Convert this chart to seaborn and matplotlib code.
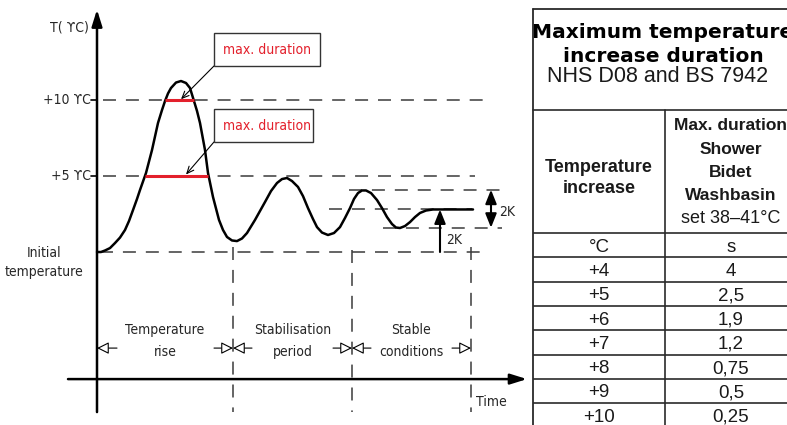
import matplotlib
matplotlib.use("Agg")
import matplotlib.pyplot as plt
from matplotlib import font_manager
from matplotlib.patches import Rectangle
import seaborn as sns

# water temperature response
# time in arbitrary units, temperature as rise above the initial temperature (K)
curve_t = [0.0, 0.4, 0.8, 1.3, 1.8, 2.3, 2.8, 3.2, 3.6, 4.0, 4.3, 4.9, 5.5, 6.1, 6.5,
           6.8, 7.1, 7.4, 7.9, 8.4, 8.9, 9.3, 9.7, 10.0, 10.3, 10.8, 11.1, 11.6, 12.2,
           12.6, 13.0, 13.5, 14.0, 14.5, 15.0, 15.8, 16.8, 17.4, 18.0, 18.5, 19.0, 19.5,
           20.1, 20.6, 21.1, 21.6, 22.0, 22.5, 23.1, 23.7, 24.3, 24.8, 25.3, 25.7, 26.1,
           26.5, 26.9, 27.4, 28.0, 28.5, 29.0, 29.5, 29.9, 30.3, 30.8, 31.3, 31.8, 32.3,
           32.9, 33.6, 37.6]
curve_T = [0.0, 0.0, 0.10, 0.26, 0.59, 0.95, 1.45, 2.04, 2.76, 3.49, 4.08, 5.20, 6.71,
           8.49, 9.34, 9.93, 10.43, 10.79, 11.15, 11.25, 11.12, 10.79, 9.93, 9.28, 8.49,
           6.71, 5.20, 3.62, 2.11, 1.45, 0.99, 0.76, 0.72, 0.89, 1.25, 2.11, 3.29, 4.01,
           4.54, 4.80, 4.87, 4.67, 4.28, 3.68, 2.89, 2.17, 1.64, 1.28, 1.12, 1.25, 1.64,
           2.24, 2.89, 3.49, 3.88, 4.05, 4.05, 3.88, 3.42, 2.89, 2.30, 1.84, 1.61, 1.58,
           1.71, 1.97, 2.30, 2.57, 2.73, 2.80, 2.80]

limit_levels = [10, 5]
limit_labels = ["+10 ϒC", "+5 ϒC"]
red_start = [6.84, 4.79]
red_end = [9.67, 11.06]
band_levels = [4.1, 2.8, 1.6]
phase_bounds = [0.0, 13.6, 25.5, 37.4]
phase_labels = ["Temperature\nrise", "Stabilisation\nperiod", "Stable\nconditions"]

table_units = ["°C", "s"]
temp_increase = ["+4", "+5", "+6", "+7", "+8", "+9", "+10"]
max_duration = ["4", "2,5", "1,9", "1,2", "0,75", "0,5", "0,25"]

RED = "#e3202c"
DASH_C = "#3a3a3a"
dash = (0, (8.5, 6.5))

sns.set_theme(style="white")

# look for a narrow face for the drawing labels
narrow, stretch, fs = "Liberation Sans", "normal", 9.5
cands = [f for f in font_manager.fontManager.ttflist
         if ("condensed" in str(f.stretch) or "Narrow" in f.name or "Condensed" in f.name)
         and f.style == "normal" and f.weight in (400, "normal", "regular", "book")]
if cands:
    cands.sort(key=lambda f: (f.name != "Liberation Sans Narrow", f.name != "DejaVu Sans"))
    narrow, stretch, fs = cands[0].name, cands[0].stretch, 10
plt.rcParams["font.family"] = [narrow, "DejaVu Sans"]
plt.rcParams["font.stretch"] = stretch

fig = plt.figure(figsize=(7.87, 4.25), dpi=100)
ax = fig.add_axes([0, 0, 1, 1])

# reference lines
ax.hlines(limit_levels, 0.6, [38.8, 37.8], colors=DASH_C, lw=1.1, linestyles=[dash])
ax.hlines(0, 0.3, 38.8, colors=DASH_C, lw=1.1, linestyles=[dash])
ax.hlines(band_levels, [25.2, 23.2, 28.6], [40.5, 37.5, 40.5], colors=DASH_C, lw=1.1,
          linestyles=[dash])
ax.vlines(phase_bounds[1:], [0.33, 0.13, 0.33], -10.53, colors=DASH_C, lw=1.1,
          linestyles=[dash])

sns.lineplot(x=curve_t, y=curve_T, sort=False, estimator=None, color="black", lw=1.8,
             ax=ax, zorder=4)
ax.hlines(limit_levels, red_start, red_end, colors=RED, lw=2.2, zorder=5)

# axes with arrow heads
axis_head = dict(arrowstyle="-|>,head_length=0.8,head_width=0.25", mutation_scale=12.5,
                 lw=1.8, color="black", shrinkA=0, shrinkB=0)
ax.annotate("", xy=(0, 15.95), xytext=(0, -10.53), arrowprops=axis_head)
ax.annotate("", xy=(43.0, -8.36), xytext=(-2.9, -8.36), arrowprops=axis_head)

ax.text(-0.8, 14.8, "T( ϒC)", ha="right", va="center", fontsize=fs)
for lvl, lab in zip(limit_levels, limit_labels):
    ax.text(-0.6, lvl, lab, ha="right", va="center", fontsize=fs)
    ax.plot([-0.6, 0], [lvl, lvl], color="black", lw=1.2)
ax.text(-5.3, -0.69, "Initial\ntemperature", ha="center", va="center", fontsize=fs,
        linespacing=1.5)

# phase labels and open arrows
yarr = -6.32
open_head = dict(arrowstyle="-|>,head_length=0.6,head_width=0.3", mutation_scale=12,
                 lw=0.8, fc="white", ec="black", shrinkA=0, shrinkB=0)
for i, lab in enumerate(phase_labels):
    mid = (phase_bounds[i] + phase_bounds[i + 1]) / 2
    ax.text(mid, -5.86, lab, ha="center", va="center", fontsize=fs, linespacing=1.7)
ax.annotate("", xy=(0, yarr), xytext=(2.0, yarr), arrowprops=open_head)
for b in phase_bounds[1:]:
    ax.annotate("", xy=(b, yarr), xytext=(b - 1.9, yarr), arrowprops=open_head)
    if b != phase_bounds[-1]:
        ax.annotate("", xy=(b, yarr), xytext=(b + 1.9, yarr), arrowprops=open_head)
ax.text(37.9, -9.87, "Time", ha="left", va="center", fontsize=fs)

# 2K markers
k_head = dict(arrowstyle="<|-|>,head_length=0.7,head_width=0.28", mutation_scale=12,
              lw=1.5, color="black", shrinkA=0, shrinkB=0)
ax.annotate("", xy=(39.4, band_levels[0]), xytext=(39.4, band_levels[2]), arrowprops=k_head)
ax.text(40.2, 2.63, "2K", ha="left", va="center", fontsize=fs)
k_head1 = dict(k_head, arrowstyle="-|>,head_length=0.7,head_width=0.28")
ax.annotate("", xy=(34.3, band_levels[1]), xytext=(34.3, 0.0), arrowprops=k_head1)
ax.text(34.9, 0.79, "2K", ha="left", va="center", fontsize=fs)

# callouts
for (bx, by, bw), tip in zip([(11.7, 12.24, 10.6), (11.7, 7.24, 9.9)], [(8.4, 10.05), (8.9, 5.1)]):
    ax.add_patch(Rectangle((bx, by), bw, 2.17, fc="white", ec="#333333", lw=1.0, zorder=6))
    ax.text(bx + 0.95, by + 1.08, "max. duration", color=RED, ha="left", va="center",
            fontsize=fs, zorder=7)
    ax.annotate("", xy=tip, xytext=(bx, by),
                arrowprops=dict(arrowstyle="->,head_length=0.5,head_width=0.22",
                                mutation_scale=10, lw=0.8, color="black",
                                shrinkA=0, shrinkB=0))

ax.set_xlim(-9.7, 69.0)
ax.set_ylim(-11.38, 16.58)
ax.axis("off")

# table on the right (layout in pixel units)
tab = fig.add_axes([0, 0, 1, 1])
tab.set_xlim(0, 787)
tab.set_ylim(425, 0)
tab.axis("off")
L, DIV, R = 533, 665, 800
LC = "#2a2a2a"
tab.plot([L, R], [9, 9], color=LC, lw=1.3)
tab.plot([L, L], [9, 430], color=LC, lw=1.3)
tab.plot([L, R], [110, 110], color=LC, lw=1.2)
tab.plot([DIV, DIV], [110, 430], color=LC, lw=1.2)
row_h = 24.3
tab.hlines([233 + row_h * k for k in range(8)], L, R, colors=LC, lw=1.2)

tfont = ["Liberation Sans", "DejaVu Sans"]
tkw = dict(ha="center", va="baseline", family=tfont, color="#1a1a1a", stretch="normal")
tab.text(663, 38, "Maximum temperature", ha="center", va="baseline", fontsize=14.5,
         family="DejaVu Sans", weight="bold", color="black", stretch="normal")
tab.text(663, 62, "increase duration", ha="center", va="baseline", fontsize=14.5,
         family="DejaVu Sans", weight="bold", color="black", stretch="normal")
tab.text(658, 82, "NHS D08 and BS 7942", fontsize=15.5, **tkw)
tab.text(599, 172, "Temperature", fontsize=13, weight="bold", **tkw)
tab.text(599, 193, "increase", fontsize=13, weight="bold", **tkw)
for y, line in zip([130, 154, 177, 200], ["Max. duration", "Shower", "Bidet", "Washbasin"]):
    tab.text(731, y, line, fontsize=12.5, weight="bold", **tkw)
tab.text(731, 223, "set 38–41°C", fontsize=13, **tkw)

for i, (a, b) in enumerate(zip([table_units[0]] + temp_increase, [table_units[1]] + max_duration)):
    y = 233 + row_h * (i + 0.5) + 6.5
    tab.text(599, y, a, fontsize=13.5, **tkw)
    tab.text(731, y, b, fontsize=13.5, **tkw)

fig.savefig("out.png", dpi=100)
